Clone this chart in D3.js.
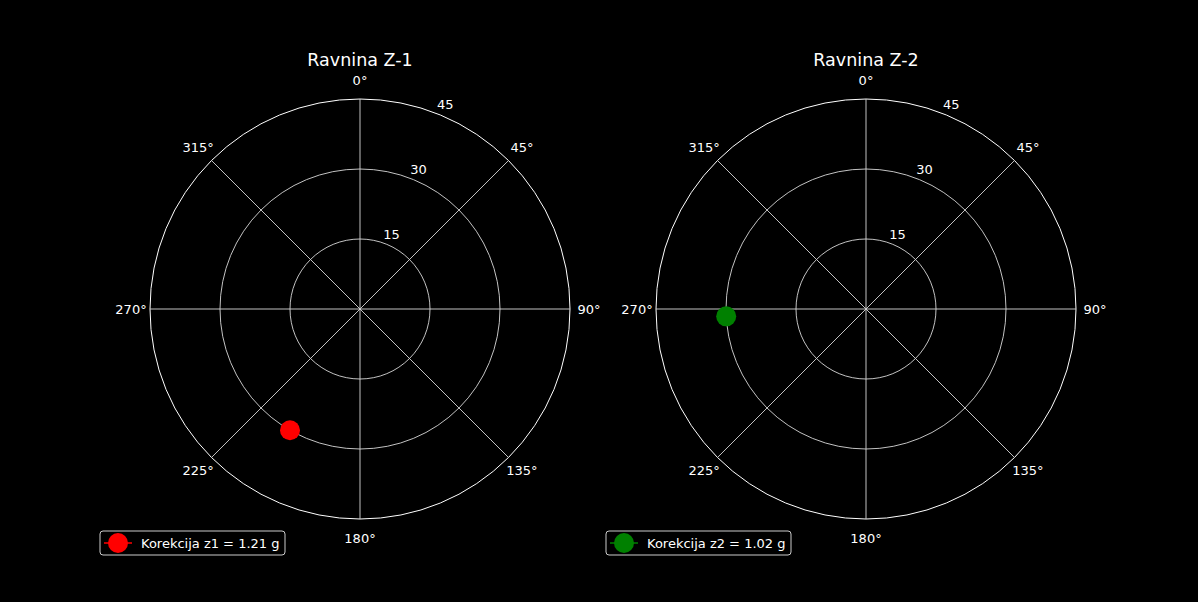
<!DOCTYPE html>
<html><head><meta charset="utf-8">
<script src="https://cdn.jsdelivr.net/npm/d3@7"></script>
<style>html,body{margin:0;padding:0;background:#000;}svg{display:block;}</style>
</head><body>
<svg id="chart" width="1198" height="602"></svg>
<script>
const titles = ["Ravnina Z-1", "Ravnina Z-2"];
const angles = [210, 267];
const radii = [30, 30];
const colors = ["#ff0000", "#008000"];
const legendLabels = ["Korekcija z1 = 1.21 g", "Korekcija z2 = 1.02 g"];
const radialTicks = [15, 30, 45];
const angleTicks = [0, 45, 90, 135, 180, 225, 270, 315];
const rMax = 45;

const svg = d3.select("#chart");
const centers = [[360, 309], [866, 309]];
const R = 210;
const font = "DejaVu Sans, sans-serif";
const rScale = d3.scaleLinear().domain([0, rMax]).range([0, R]);
const aScale = d3.scaleLinear().domain([0, 360]).range([0, 2 * Math.PI]);
const pt = (deg, r) => [Math.sin(aScale(deg)) * rScale(r), -Math.cos(aScale(deg)) * rScale(r)];
const polarPx = (deg, px) => [Math.sin(aScale(deg)) * px, -Math.cos(aScale(deg)) * px];

titles.forEach((t, i) => {
  const g = svg.append("g").attr("transform", `translate(${centers[i][0]},${centers[i][1]})`);
  g.selectAll("circle.ring").data(radialTicks).join("circle")
    .attr("r", d => rScale(d)).attr("fill", "none")
    .attr("stroke", d => d === rMax ? "#ffffff" : "#d8d8d8").attr("stroke-width", d => d === rMax ? 1 : 0.9);
  g.selectAll("line.spoke").data(angleTicks).join("line")
    .attr("x1", 0).attr("y1", 0)
    .attr("x2", d => pt(d, rMax)[0]).attr("y2", d => pt(d, rMax)[1])
    .attr("stroke", "#d8d8d8").attr("stroke-width", 0.9);
  g.selectAll("text.ang").data(angleTicks).join("text")
    .attr("x", d => polarPx(d, R + 19)[0])
    .attr("y", d => polarPx(d, R + 19)[1])
    .attr("text-anchor", "middle").attr("dominant-baseline", "central")
    .attr("fill", "#fff").attr("font-family", font).attr("font-size", 13)
    .text(d => d + "°");
  g.selectAll("text.rad").data(radialTicks).join("text")
    .attr("x", d => polarPx(22.5, rScale(d) + 10)[0] + 1)
    .attr("y", d => polarPx(22.5, rScale(d) + 10)[1] - 1)
    .attr("text-anchor", "middle").attr("dominant-baseline", "central")
    .attr("fill", "#fff").attr("font-family", font).attr("font-size", 13)
    .text(d => d);
  g.append("text").attr("x", 0).attr("y", -249)
    .attr("text-anchor", "middle").attr("dominant-baseline", "central")
    .attr("fill", "#fff").attr("font-family", font).attr("font-size", 17.5)
    .text(t);
  g.append("circle").datum([angles[i], radii[i]])
    .attr("cx", d => pt(d[0], d[1])[0]).attr("cy", d => pt(d[0], d[1])[1])
    .attr("r", 10).attr("fill", colors[i]);
  const lg = svg.append("g").attr("transform", `translate(${centers[i][0] - 260},${centers[i][1] + 222})`);
  lg.append("rect").attr("x", 0).attr("y", 0).attr("width", 185).attr("height", 24)
    .attr("rx", 3).attr("fill", "#000").attr("stroke", "#cccccc").attr("stroke-width", 1);
  lg.append("line").attr("x1", 4).attr("x2", 32).attr("y1", 12).attr("y2", 12)
    .attr("stroke", colors[i]).attr("stroke-width", 1.5);
  lg.append("circle").attr("cx", 18).attr("cy", 12).attr("r", 10).attr("fill", colors[i]);
  lg.append("text").attr("x", 41).attr("y", 12.5).attr("dominant-baseline", "central")
    .attr("fill", "#fff").attr("font-family", font).attr("font-size", 13)
    .text(legendLabels[i]);
});
</script>
</body></html>
